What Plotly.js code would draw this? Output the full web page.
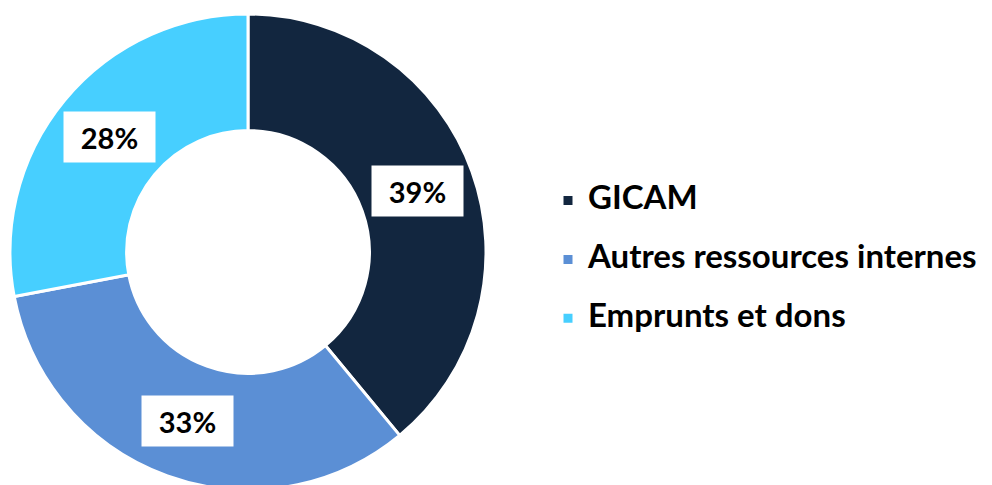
<!DOCTYPE html>
<html>
<head>
<meta charset="utf-8">
<script src="https://cdn.plot.ly/plotly-3.0.1.min.js"></script>
<style>
html,body{margin:0;padding:0;overflow:hidden;background:#fff;}
#chart{width:992px;height:490px;}
</style>
</head>
<body>
<div id="chart"></div>
<script>
// Data
const categories = ["GICAM", "Autres ressources internes", "Emprunts et dons"];
const shares = [39, 33, 28];
const sliceColors = ["#12263F", "#5B8FD5", "#47CFFF"];

const W = 992, H = 490;
const M = {l: 10, r: 0, t: 14, b: 0};
const plotW = W - M.l - M.r, plotH = H - M.t - M.b;
const diam = plotH;
const domX = [0, diam / plotW];
const hole = 0.51;
const FONT = "'Century Gothic', Lato, 'Open Sans', sans-serif";

// label annotations computed from data (mid-angle of each slice, mid-radius of ring)
const total = shares.reduce((a, b) => a + b, 0);
const cx = M.l + (domX[0] + domX[1]) / 2 * plotW;
const cy = M.t + plotH / 2;
const R = diam / 2;
const rMid = R * (1 + hole) / 2;
let cum = 0;
const annotations = shares.map((v, i) => {
  const mid = (cum + v / 2) / total * 2 * Math.PI;
  cum += v;
  const px = cx + rMid * Math.sin(mid);
  const py = cy - rMid * Math.cos(mid);
  return {
    xref: "paper", yref: "paper",
    x: (px - M.l) / plotW, y: 1 - (py - M.t) / plotH,
    xanchor: "center", yanchor: "middle",
    text: "<b>" + Math.round(v / total * 100) + "%</b>",
    showarrow: false,
    bgcolor: "#ffffff",
    width: 89, height: 48,
    font: {family: FONT, size: 29, color: "#000000"}
  };
});

const trace = {
  type: "pie",
  labels: categories.map(c => "<span style='font-size:33px'><b>" + c + "</b></span><br> "),
  values: shares,
  sort: false,
  direction: "clockwise",
  rotation: 0,
  hole: hole,
  textinfo: "none",
  hoverinfo: "label+percent",
  marker: {colors: sliceColors, line: {color: "#ffffff", width: 3}},
  domain: {x: domX, y: [0, 1]}
};

const layout = {
  width: W, height: H,
  margin: M,
  paper_bgcolor: "#ffffff",
  plot_bgcolor: "#ffffff",
  showlegend: true,
  legend: {
    x: (548 - M.l) / plotW, xanchor: "left",
    y: 1 - (180 - M.t) / plotH, yanchor: "top",
    valign: "top",
    font: {family: FONT, size: 21.5, color: "#000000"},
    bgcolor: "rgba(0,0,0,0)"
  },
  annotations: annotations
};

Plotly.newPlot("chart", [trace], layout, {displayModeBar: false, staticPlot: true});
</script>
</body>
</html>
